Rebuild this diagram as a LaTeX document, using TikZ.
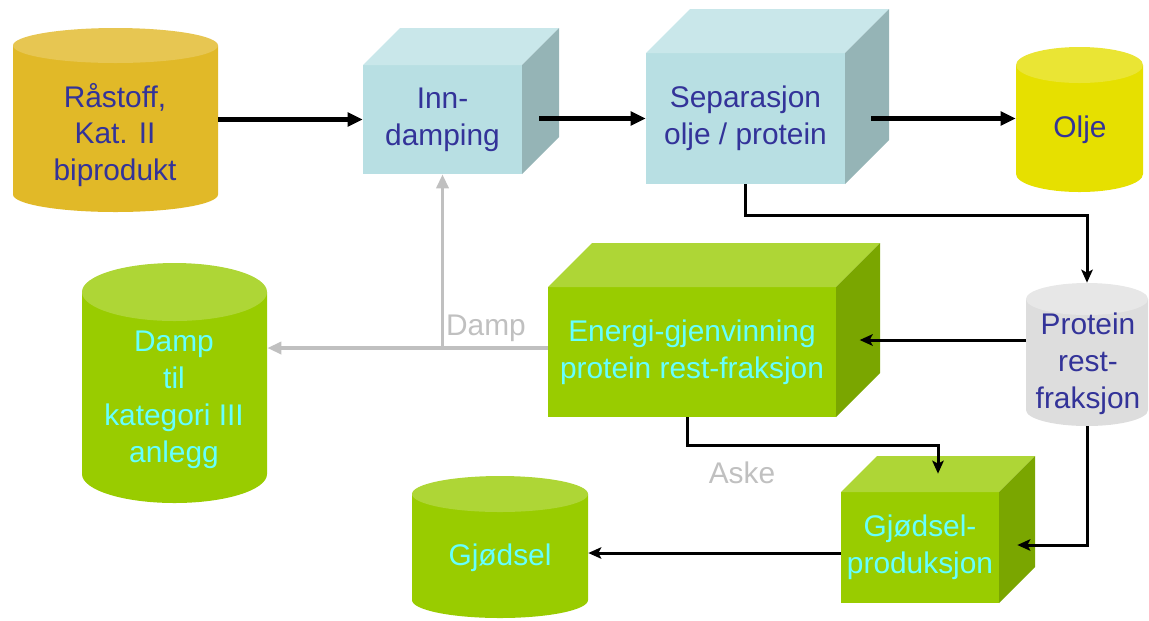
\documentclass[tikz,border=0pt]{standalone}
\usepackage{fontspec}
\setmainfont{Liberation Sans}
\usetikzlibrary{arrows.meta,calc}
\definecolor{goldbody}{RGB}{225,185,40}
\definecolor{goldtop}{RGB}{231,198,82}
\definecolor{bluefront}{RGB}{184,223,227}
\definecolor{bluetop}{RGB}{201,231,234}
\definecolor{blueside}{RGB}{149,180,182}
\definecolor{yelbody}{RGB}{230,224,0}
\definecolor{yeltop}{RGB}{234,229,52}
\definecolor{grnfront}{RGB}{153,204,0}
\definecolor{grntop}{RGB}{174,214,54}
\definecolor{grnside}{RGB}{122,166,0}
\definecolor{greybody}{RGB}{221,221,221}
\definecolor{greytop}{RGB}{231,231,231}
\definecolor{txtblue}{RGB}{51,51,153}
\definecolor{txtcyan}{RGB}{102,255,255}
\definecolor{arrowgray}{RGB}{192,192,192}
\newcommand\cylshape[7]{%
  \pgfmathsetmacro\cxa{#1}\pgfmathsetmacro\cxb{#2}%
  \pgfmathsetmacro\cyt{-(#3)-(#5)}%
  \pgfmathsetmacro\cyb{-(#4)+(#5)}%
  \pgfmathsetmacro\crx{((#2)-(#1))/2}%
  \pgfmathsetmacro\ccx{((#1)+(#2))/2}%
  \fill[#6] (\cxa,\cyt) -- (\cxa,\cyb) arc[start angle=180,end angle=360,x radius=\crx,y radius=#5] -- (\cxb,\cyt) -- cycle;
  \fill[#7] (\ccx,\cyt) ellipse[x radius=\crx, y radius=#5];
}
\newcommand\boxshape[8]{%
  \pgfmathsetmacro\bxa{#1}\pgfmathsetmacro\bya{-(#2)}%
  \pgfmathsetmacro\bxb{#3}\pgfmathsetmacro\byb{-(#4)}%
  \pgfmathsetmacro\bxc{(#1)+(#5)}\pgfmathsetmacro\bxd{(#3)+(#5)}%
  \pgfmathsetmacro\byc{-(#2)+(#5)}\pgfmathsetmacro\byd{-(#4)+(#5)}%
  \fill[#6] (\bxa,\bya) rectangle (\bxb,\byb);
  \fill[#7] (\bxa,\bya) -- (\bxc,\byc) -- (\bxd,\byc) -- (\bxb,\bya) -- cycle;
  \fill[#8] (\bxb,\bya) -- (\bxd,\byc) -- (\bxd,\byd) -- (\bxb,\byb) -- cycle;
}
\tikzset{
  anchorbox/.style={inner sep=0pt, align=center, font=\fontsize{17}{21}\selectfont},
  bluetxt/.style={text=txtblue, align=center, inner sep=0pt, font=\fontsize{17}{21}\selectfont},
  cyantxt/.style={text=txtcyan, align=center, inner sep=0pt, font=\fontsize{17}{21}\selectfont},
  graytxt/.style={text=arrowgray, inner sep=0pt, font=\fontsize{17}{21}\selectfont},
  mainarrow/.style={draw=black, line width=2.3pt, -{Triangle[length=0.3cm,width=0.27cm]}},
  thinarrow/.style={draw=black, line width=1.7pt, -{Stealth[length=0.26cm,width=0.23cm,inset=0.06cm]}},
  grayarrow/.style={draw=arrowgray, line width=1.9pt, -{Triangle[length=0.28cm,width=0.24cm]}}
}
\begin{document}
\begin{tikzpicture}[x=0.02cm,y=0.02cm]
\useasboundingbox (0,0) rectangle (1149,-620);
% shapes
\cylshape{13}{218}{28}{212}{17.5}{goldbody}{goldtop}
\cylshape{1016}{1143}{47}{192}{18}{yelbody}{yeltop}
\cylshape{1026}{1148}{283}{426}{16}{greybody}{greytop}
\cylshape{82}{267}{263}{503}{29}{grnfront}{grntop}
\cylshape{412}{588}{476}{618}{18}{grnfront}{grntop}
\boxshape{363}{65}{522}{174}{37}{bluefront}{bluetop}{blueside}
\boxshape{646}{53}{845}{184}{44}{bluefront}{bluetop}{blueside}
\boxshape{548}{287}{836}{417}{44}{grnfront}{grntop}{grnside}
\boxshape{841}{492}{999}{603}{36}{grnfront}{grntop}{grnside}
% anchor nodes
\node[anchorbox, minimum width=4.1cm, minimum height=3.68cm] (raw) at (115.5,-120) {};
\node[anchorbox, minimum width=2.54cm, minimum height=2.9cm] (olje) at (1079.5,-119.5) {};
\node[anchorbox, minimum width=2.44cm, minimum height=2.86cm] (prot) at (1087,-354.5) {};
\node[anchorbox, minimum width=3.7cm, minimum height=4.8cm] (damp) at (174.5,-383) {};
\node[anchorbox, minimum width=3.52cm, minimum height=2.84cm] (gj) at (500,-547) {};
\node[anchorbox, text=txtblue, minimum width=3.18cm, minimum height=2.18cm] (inn) at (442.5,-119.5) {Inn-\\damping};
\node[anchorbox, text=txtblue, minimum width=3.98cm, minimum height=2.62cm] (sep) at (745.5,-118.5) {Separasjon\\olje / protein};
\node[anchorbox, text=txtcyan, minimum width=5.76cm, minimum height=2.6cm] (energi) at (692,-352) {Energi-gjenvinning\\protein rest-fraksjon};
\node[anchorbox, text=txtcyan, minimum width=3.16cm, minimum height=2.22cm] (gp) at (920,-547.5) {Gjødsel-\\produksjon};
% cylinder texts
\node[bluetxt] (rawt) at (115,-135) {Råstoff,\\Kat. II\\biprodukt};
\node[bluetxt] (oljet) at (1080,-130) {Olje};
\node[bluetxt] (prott) at (1088,-364) {Protein\\rest-\\fraksjon};
\node[cyantxt] (dampt) at (174,-400) {Damp\\til\\kategori III\\anlegg};
\node[cyantxt] (gjt) at (500,-558) {Gjødsel};
% labels
\node[graytxt] (damplbl) at (486,-328) {Damp};
\node[graytxt] (askelbl) at (742,-473) {Aske};
% connectors
\draw[mainarrow] (inn.west -| raw.east) -- (inn.west);
\draw[mainarrow] ([xshift=0.34cm]inn.east |- sep.west) -- (sep.west);
\draw[mainarrow] ([xshift=0.52cm]sep.east) -- (sep.east -| olje.west);
\draw[thinarrow] (sep.south) -- ++(0,-31) -| (prot.north);
\draw[thinarrow] ([yshift=0.29cm]prot.west) -- ++(-166,0);
\draw[thinarrow] ([xshift=-0.1cm]energi.south) -- ++(0,-28) -| ([shift={(0.36cm,0.36cm)}]gp.north);
\draw[thinarrow] (prot.south) |- ([shift={(0.36cm,0.05cm)}]gp.east);
\coordinate (gparr) at ([yshift=-0.11cm]gp.west);
\draw[thinarrow] (gparr) -- (gparr -| gj.east);
\coordinate (dampsplit) at ([yshift=0.08cm]energi.west);
\draw[grayarrow] (dampsplit) -- (dampsplit -| damp.east);
\draw[grayarrow] (dampsplit -| inn.south) -- (inn.south);
\end{tikzpicture}
\end{document}
